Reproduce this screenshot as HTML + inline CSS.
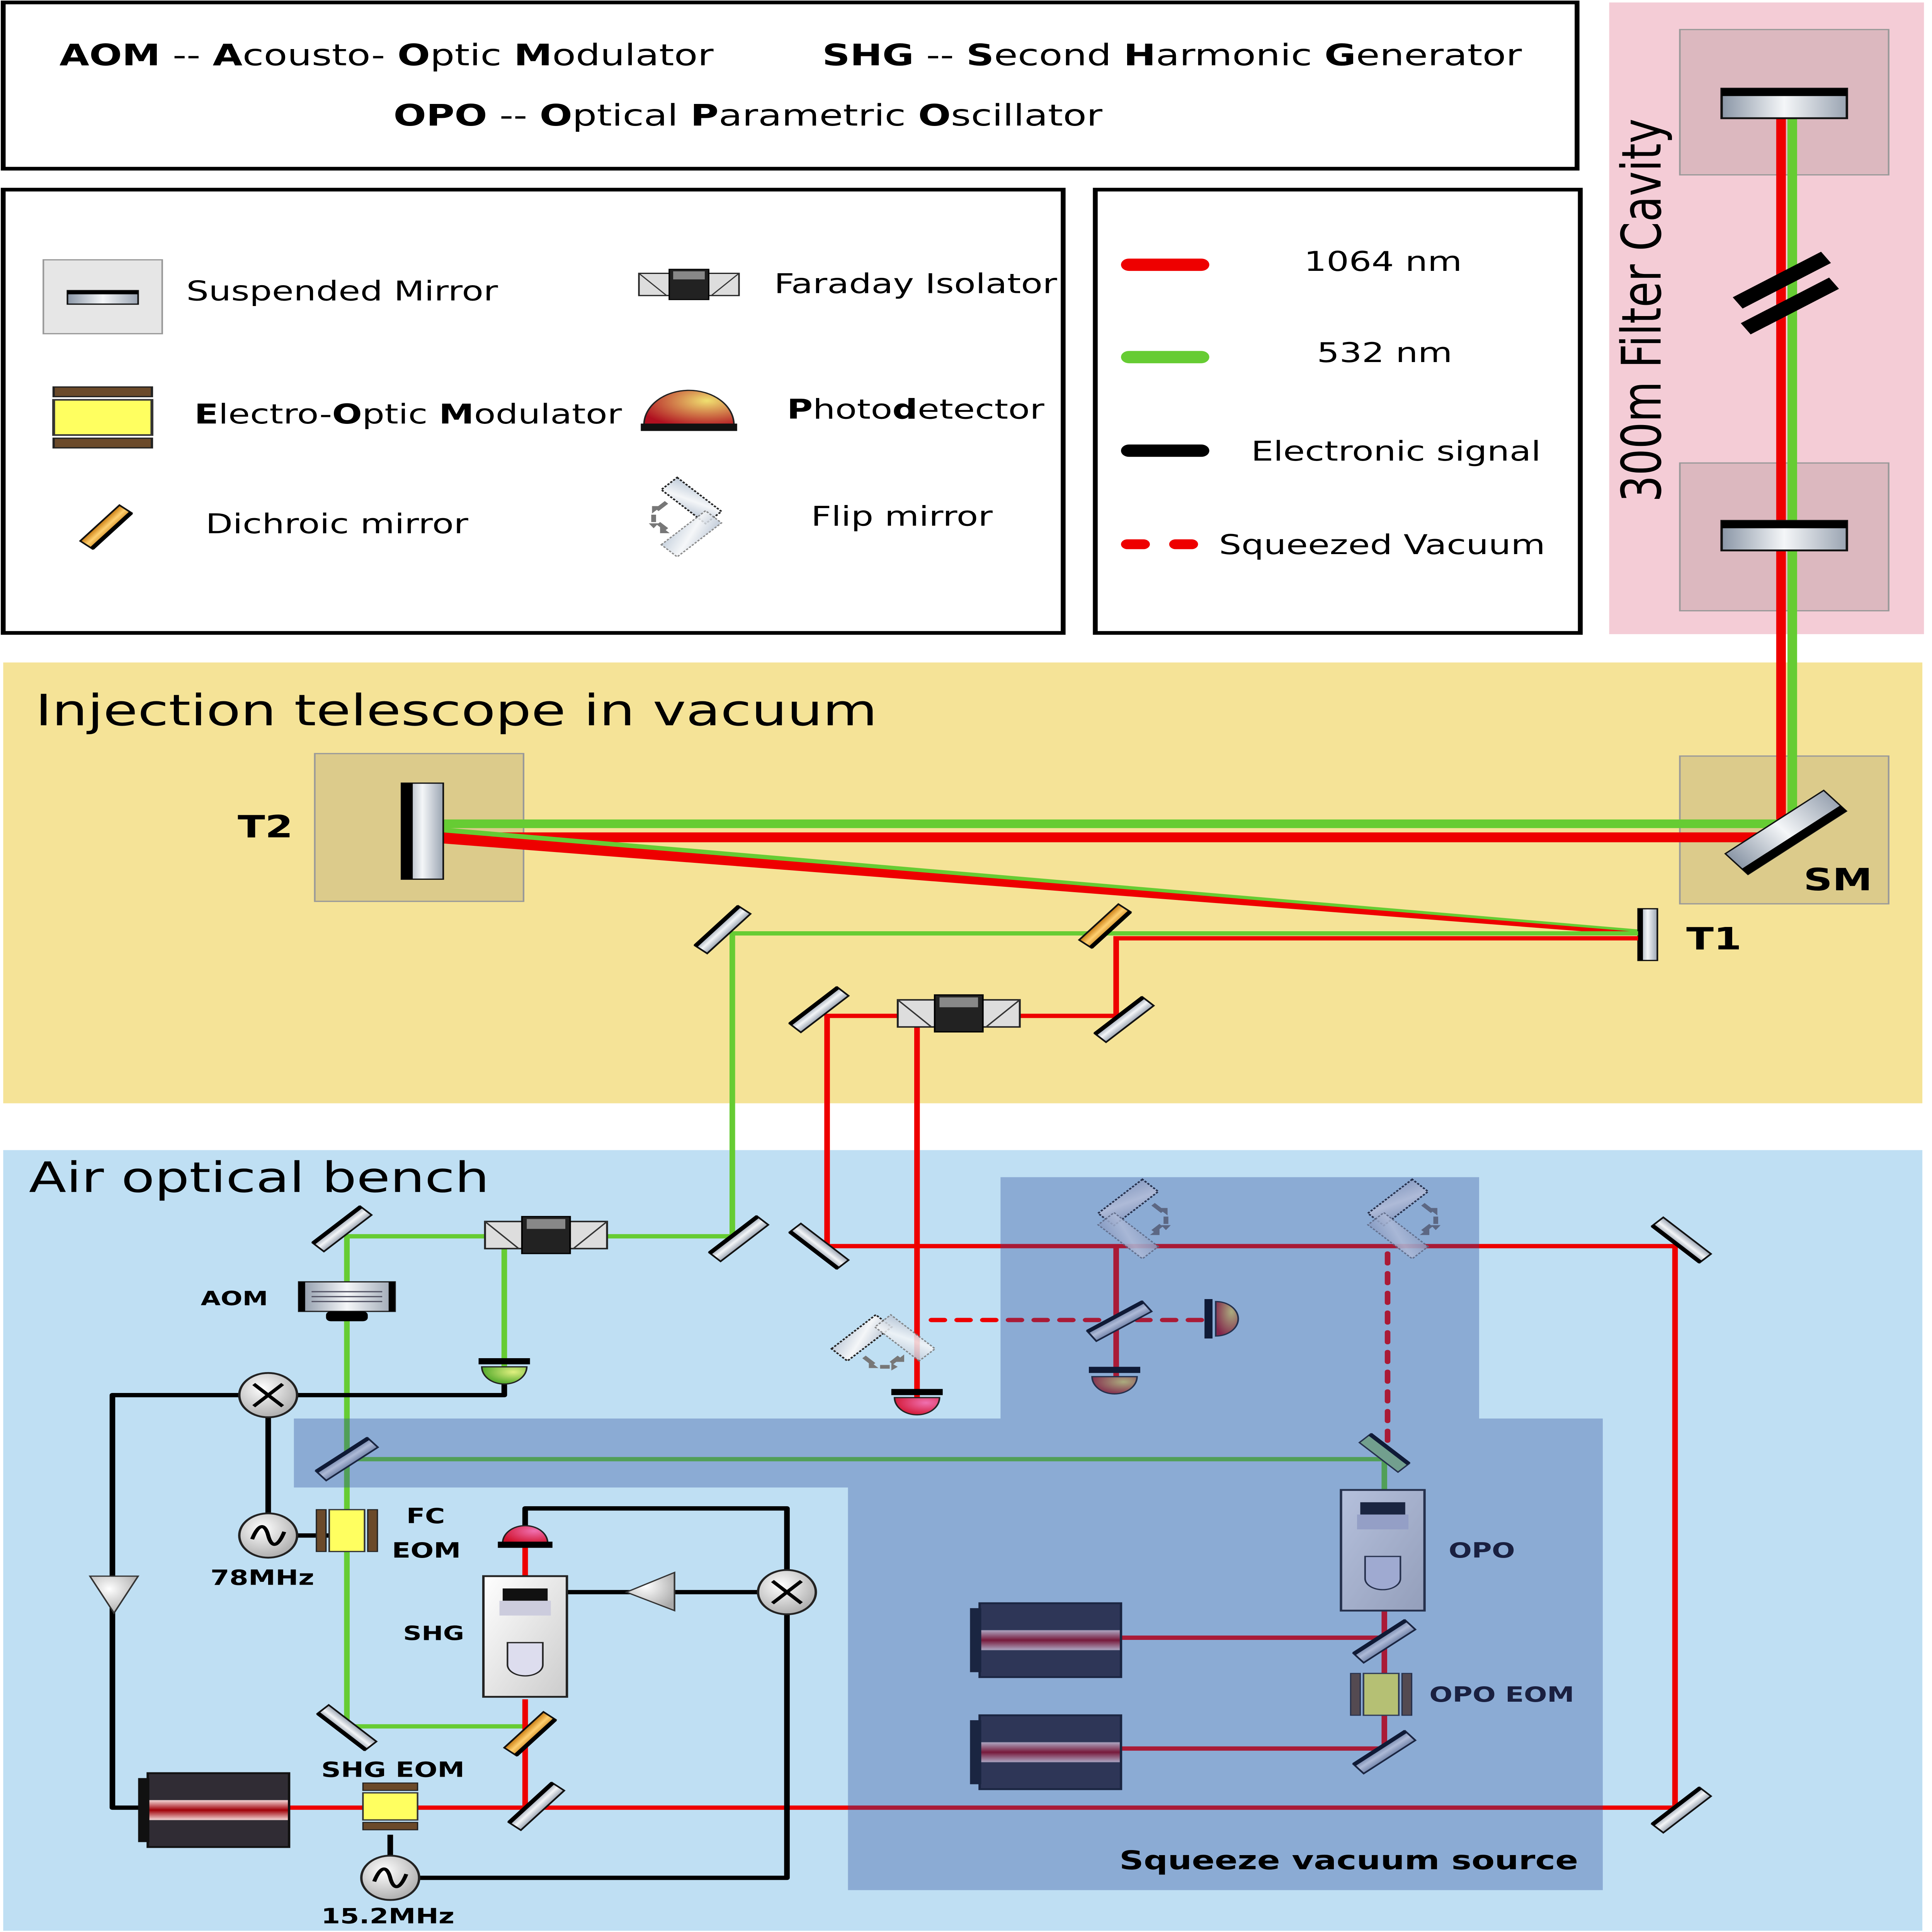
<!DOCTYPE html>
<html><head><meta charset="utf-8"><style>html,body{margin:0;padding:0;background:#fff;width:100%;height:100%;overflow:hidden}svg{display:block;position:fixed;left:0;top:0;width:100vw;height:100vh}text{font-family:"DejaVu Sans","Liberation Sans",sans-serif}</style></head><body>
<svg xmlns="http://www.w3.org/2000/svg" viewBox="0 0 1203 1569" preserveAspectRatio="none">
<defs>
<linearGradient id="mg" x1="0" y1="0" x2="1" y2="0"><stop offset="0" stop-color="#8a96a6"/><stop offset="0.5" stop-color="#f4f6f8"/><stop offset="1" stop-color="#9aa4b2"/></linearGradient>
<linearGradient id="fg" x1="0" y1="0" x2="1" y2="1"><stop offset="0" stop-color="#c0ccda"/><stop offset="0.5" stop-color="#f4f6f8"/><stop offset="1" stop-color="#b8c4d4"/></linearGradient>
<linearGradient id="og" x1="0" y1="0" x2="1" y2="0"><stop offset="0" stop-color="#c87a10"/><stop offset="0.5" stop-color="#ffd070"/><stop offset="1" stop-color="#d08a20"/></linearGradient>
<linearGradient id="lg" x1="0" y1="0" x2="0" y2="1"><stop offset="0" stop-color="#302c34"/><stop offset="0.36" stop-color="#302c34"/><stop offset="0.37" stop-color="#f0d0d0"/><stop offset="0.5" stop-color="#a00008"/><stop offset="0.63" stop-color="#f0d0d0"/><stop offset="0.64" stop-color="#302c34"/><stop offset="1" stop-color="#302c34"/></linearGradient>
<radialGradient id="cg" cx="0.4" cy="0.35" r="0.7"><stop offset="0" stop-color="#fff"/><stop offset="1" stop-color="#aaa"/></radialGradient>
<radialGradient id="pr" cx="0.7" cy="0.3" r="0.8"><stop offset="0" stop-color="#f070b0"/><stop offset="1" stop-color="#d0102a"/></radialGradient>
<radialGradient id="pg" cx="0.7" cy="0.3" r="0.8"><stop offset="0" stop-color="#e0f080"/><stop offset="1" stop-color="#40a020"/></radialGradient>
<radialGradient id="py" cx="0.7" cy="0.3" r="0.8"><stop offset="0" stop-color="#f0e070"/><stop offset="1" stop-color="#b01020"/></radialGradient>
<linearGradient id="sg" x1="0" y1="0" x2="1" y2="1"><stop offset="0" stop-color="#fff"/><stop offset="1" stop-color="#ccc"/></linearGradient>
<g id="mir"><rect x="-5" y="-21" width="10" height="42" fill="url(#mg)" stroke="#111" stroke-width="1.2"/><rect x="-6" y="-21" width="3" height="42" fill="#000"/></g>
<g id="dich"><rect x="-5" y="-19" width="10" height="38" fill="url(#og)" stroke="#111" stroke-width="1.2"/><rect x="3" y="-19" width="3" height="38" fill="#000"/></g>
<g id="fi"><rect x="-38" y="-11" width="76" height="22" fill="#ddd" stroke="#222" stroke-width="1.2"/><rect x="-15" y="-15" width="30" height="30" fill="#222" stroke="#000"/><rect x="-12" y="-13" width="24" height="8" fill="#888"/><line x1="-38" y1="-11" x2="-17" y2="11" stroke="#333"/><line x1="38" y1="-11" x2="17" y2="11" stroke="#333"/></g>
<g id="mix"><circle r="18" fill="url(#cg)" stroke="#222" stroke-width="1.5"/><path d="M-9,-9L9,9M9,-9L-9,9" stroke="#000" stroke-width="2.5"/></g>
<g id="osc"><circle r="18" fill="url(#cg)" stroke="#222" stroke-width="1.5"/><path d="M-10,3 C-6,-10 -2,-10 0,0 C2,10 6,10 10,-3" fill="none" stroke="#000" stroke-width="2.5"/></g>
<g id="eom"><rect x="-17" y="-19" width="34" height="6" fill="#6b4a2a" stroke="#222" stroke-width=".8"/><rect x="-17" y="13" width="34" height="6" fill="#6b4a2a" stroke="#222" stroke-width=".8"/><rect x="-17" y="-11" width="34" height="22" fill="#ffff60" stroke="#333" stroke-width="1"/></g>
<g id="las"><rect x="0" y="0" width="88" height="60" fill="url(#lg)" stroke="#111" stroke-width="1.5"/><rect x="-6" y="4" width="7" height="52" fill="#111"/></g>
<g id="box"><rect x="0" y="0" width="52" height="98" fill="url(#sg)" stroke="#222" stroke-width="1.5"/><rect x="12" y="10" width="28" height="10" fill="#111"/><rect x="10" y="20" width="32" height="12" fill="#ccd"/><path d="M15,54H37V72A11,9 0 0 1 15,72Z" fill="#dde" stroke="#222"/></g>
<g id="flip">
<g transform="translate(-0.5,-13.5) rotate(45)"><rect x="-19.5" y="-7" width="39" height="14" fill="url(#fg)" stroke="#222" stroke-width="1.2" stroke-dasharray="1.5,1"/></g>
<g transform="translate(-0.5,13.5) rotate(-45)"><rect x="-19.5" y="-7" width="39" height="14" fill="url(#fg)" stroke="#777" stroke-width="1" stroke-dasharray="1.5,1" opacity=".85"/></g>
<path d="M-16,-12 l-6,6 M-24,-2 v6 M-16,10 l-5,-5" stroke="#777" stroke-width="3"/>
<path d="M-19,-9 l-6,0 l0,6z M-27,5 l6,0 l-3,4z M-14,13 l-6,0 l0,-6z" fill="#777"/>
</g>
</defs>
<rect width="1203" height="1569" fill="#fff"/>
<rect x="2" y="2" width="980" height="135" fill="#fff" stroke="#000" stroke-width="3"/>
<text x="37" y="53" font-size="24"><tspan font-weight="bold">AOM</tspan> -- <tspan font-weight="bold">A</tspan>cousto- <tspan font-weight="bold">O</tspan>ptic <tspan font-weight="bold">M</tspan>odulator</text>
<text x="512" y="53" font-size="24"><tspan font-weight="bold">SHG</tspan> -- <tspan font-weight="bold">S</tspan>econd <tspan font-weight="bold">H</tspan>armonic <tspan font-weight="bold">G</tspan>enerator</text>
<text x="245" y="102" font-size="24"><tspan font-weight="bold">OPO</tspan> -- <tspan font-weight="bold">O</tspan>ptical <tspan font-weight="bold">P</tspan>arametric <tspan font-weight="bold">O</tspan>scillator</text>
<rect x="2" y="154" width="660" height="360" fill="#fff" stroke="#000" stroke-width="3"/>
<rect x="27" y="211" width="74" height="60" fill="#e6e6e6" stroke="#999"/>
<rect x="42" y="236" width="44" height="11" fill="url(#mg)" stroke="#111"/><rect x="42" y="236" width="44" height="3" fill="#000"/>
<text x="116" y="244" font-size="22">Suspended Mirror</text>
<use href="#fi" transform="translate(429,231) scale(0.82)"/>
<text x="482" y="238" font-size="22">Faraday Isolator</text>
<g transform="translate(64,339) scale(1.8,1.3)"><use href="#eom"/></g>
<text x="121" y="344" font-size="22"><tspan font-weight="bold">E</tspan>lectro-<tspan font-weight="bold">O</tspan>ptic <tspan font-weight="bold">M</tspan>odulator</text>
<path d="M401,345 A28,28 0 0 1 457,345Z" fill="url(#py)" stroke="#222"/><rect x="399" y="344" width="60" height="6" fill="#111"/>
<text x="490" y="340" font-size="22"><tspan font-weight="bold">P</tspan>hoto<tspan font-weight="bold">d</tspan>etector</text>
<use href="#dich" transform="translate(66,428) rotate(40)"/>
<text x="128" y="433" font-size="22">Dichroic mirror</text>
<use href="#flip" transform="translate(431,420)"/>
<text x="505" y="427" font-size="22">Flip mirror</text>
<rect x="682" y="154" width="302" height="360" fill="#fff" stroke="#000" stroke-width="3"/>
<line x1="703" y1="215" x2="748" y2="215" stroke="#e00" stroke-width="10" stroke-linecap="round"/>
<text x="812" y="220" font-size="22">1064 nm</text>
<line x1="703" y1="290" x2="748" y2="290" stroke="#6c3" stroke-width="10" stroke-linecap="round"/>
<text x="820" y="294" font-size="22">532 nm</text>
<line x1="703" y1="366" x2="748" y2="366" stroke="#000" stroke-width="10" stroke-linecap="round"/>
<text x="779" y="374" font-size="22">Electronic signal</text>
<path d="M702,442H712M732,442H742" stroke="#e00" stroke-width="8" stroke-linecap="round"/>
<text x="759" y="450" font-size="22">Squeezed Vacuum</text>
<rect x="1002" y="2" width="196" height="513" fill="#f4ccd6"/>
<rect x="1046" y="24" width="130" height="118" fill="#dcb8bf" stroke="#999"/>
<rect x="1046" y="376" width="130" height="120" fill="#dcb8bf" stroke="#999"/>
<text transform="translate(1034,252) rotate(-90)" font-size="34" text-anchor="middle">300m Filter Cavity</text>
<rect x="2" y="538" width="1195" height="358" fill="#f5e397"/>
<text x="22" y="589" font-size="35">Injection telescope in vacuum</text>
<rect x="196" y="612" width="130" height="120" fill="#dccb8b" stroke="#999"/>
<rect x="1046" y="614" width="130" height="120" fill="#dccb8b" stroke="#999"/>
<rect x="2" y="934" width="1195" height="634" fill="#bfdff3"/>
<text x="18" y="968" font-size="34">Air optical bench</text>
<line x1="1116" y1="84" x2="1116" y2="668" stroke="#6c3" stroke-width="6"/>
<line x1="1109" y1="84" x2="1109" y2="676" stroke="#e00" stroke-width="6"/>
<line x1="1082" y1="246" x2="1137" y2="209" stroke="#000" stroke-width="11"/>
<line x1="1087" y1="267" x2="1142" y2="230" stroke="#000" stroke-width="11"/>
<rect x="1072" y="72" width="78" height="24" fill="url(#mg)" stroke="#111" stroke-width="1.5"/><rect x="1072" y="72" width="78" height="6" fill="#000"/>
<rect x="1072" y="423" width="78" height="24" fill="url(#mg)" stroke="#111" stroke-width="1.5"/><rect x="1072" y="423" width="78" height="6" fill="#000"/>
<line x1="276" y1="669" x2="1110" y2="669" stroke="#6c3" stroke-width="7"/>
<line x1="276" y1="680" x2="1110" y2="680" stroke="#e00" stroke-width="8"/>
<polygon points="276,675 1022,756 1022,760 276,685" fill="#e00"/>
<polygon points="276,672 1022,755 1022,757 276,676" fill="#6c3"/>
<rect x="250" y="636" width="26" height="78" fill="url(#mg)" stroke="#111"/><rect x="250" y="636" width="7" height="78" fill="#000"/>
<g transform="translate(1112,676) rotate(-40)"><rect x="-40" y="-11" width="80" height="22" fill="url(#mg)" stroke="#111"/><rect x="-40" y="5" width="80" height="6" fill="#000"/></g>
<rect x="1020" y="738" width="12" height="42" fill="url(#mg)" stroke="#111"/><rect x="1020" y="738" width="3" height="42" fill="#000"/>
<text x="148" y="680" font-size="25" font-weight="bold">T2</text>
<text x="1123" y="723" font-size="25" font-weight="bold">SM</text>
<text x="1050" y="771" font-size="25" font-weight="bold">T1</text>
<g fill="none" stroke="#6c3" stroke-width="3.5">
<path d="M1020,758H456V1004H216V1402H327V1380"/>
<path d="M314,1004V1110"/>
<path d="M216,1185H862V1212"/>
</g>
<g fill="none" stroke="#e00" stroke-width="3.5">
<path d="M1020,762H695V825H515V1012H1043V1468H180"/>
<path d="M571,825V1135"/>
<path d="M695,1012V1118"/>
<path d="M862,1308V1420H697"/>
<path d="M697,1330H862"/>
<path d="M327,1468V1380"/>
<path d="M327,1256V1280"/>
</g>
<g fill="none" stroke="#e00" stroke-width="3.5" stroke-dasharray="8,8" stroke-linecap="round">
<path d="M580,1072H752"/><path d="M864,1018V1180"/>
</g>
<g fill="none" stroke="#000" stroke-width="3.5" stroke-linejoin="round">
<path d="M314,1118V1133H70V1468H92"/>
<path d="M167,1133V1247H216"/>
<path d="M327,1240V1225H490V1525H243V1490"/>
<path d="M490,1293H340"/>
</g>
<use href="#mir" transform="translate(450,755) rotate(40)"/>
<use href="#dich" transform="translate(688,752) rotate(40)"/>
<use href="#mir" transform="translate(510,820) rotate(45)"/>
<use href="#mir" transform="translate(700,828) rotate(45)"/>
<use href="#fi" transform="translate(597,823)"/>
<use href="#mir" transform="translate(213,998) rotate(45)"/>
<use href="#fi" transform="translate(340,1003)"/>
<use href="#mir" transform="translate(460,1006) rotate(45)"/>
<use href="#mir" transform="translate(510,1012) rotate(-45)"/>
<use href="#mir" transform="translate(1047,1007) rotate(-45)"/>
<use href="#mir" transform="translate(1047,1470) rotate(45)"/>
<g transform="translate(216,1053)"><rect x="-30" y="-12" width="60" height="24" fill="url(#mg)" stroke="#222"/><rect x="-30" y="-12" width="4" height="24" fill="#000"/><rect x="26" y="-12" width="4" height="24" fill="#000"/><path d="M-22,-4H22M-22,0H22M-22,4H22" stroke="#556" /><rect x="-13" y="12" width="26" height="8" rx="3" fill="#000"/></g>
<text x="125" y="1060" font-size="16" font-weight="bold">AOM</text>
<path d="M300,1110 A14,14 0 0 0 328,1110Z" fill="url(#pg)" stroke="#222"/><rect x="298" y="1103" width="32" height="5" fill="#000"/>
<use href="#mix" transform="translate(167,1133)"/>
<polygon points="56,1280 86,1280 71,1310" fill="url(#cg)" stroke="#333"/>
<use href="#mir" transform="translate(216,1185) rotate(50)"/>
<use href="#osc" transform="translate(167,1247)"/>
<use href="#eom" transform="translate(216,1243) rotate(90)"/>
<text x="253" y="1237" font-size="17" font-weight="bold">FC</text>
<text x="244" y="1265" font-size="17" font-weight="bold">EOM</text>
<text x="131" y="1287" font-size="17" font-weight="bold">78MHz</text>
<path d="M313,1253 A14,14 0 0 1 341,1253Z" fill="url(#pr)" stroke="#222"/><rect x="310" y="1252" width="34" height="5" fill="#000"/>
<use href="#box" transform="translate(301,1280)"/>
<text x="251" y="1332" font-size="16" font-weight="bold">SHG</text>
<polygon points="420,1277 420,1308 390,1293" fill="url(#cg)" stroke="#333"/>
<use href="#mix" transform="translate(490,1293)"/>
<use href="#mir" transform="translate(216,1403) rotate(-45)"/>
<use href="#dich" transform="translate(330,1408) rotate(40)"/>
<use href="#las" transform="translate(92,1440)"/>
<use href="#eom" transform="translate(243,1467)"/>
<text x="200" y="1443" font-size="17" font-weight="bold">SHG EOM</text>
<use href="#mir" transform="translate(334,1467) rotate(40)"/>
<use href="#osc" transform="translate(243,1525)"/>
<text x="200" y="1562" font-size="17" font-weight="bold">15.2MHz</text>
<use href="#flip" transform="translate(550,1086) rotate(-90)"/>
<path d="M557,1135 A14,14 0 0 0 585,1135Z" fill="url(#pr)" stroke="#222"/><rect x="555" y="1128" width="32" height="5" fill="#000"/>
<use href="#flip" transform="translate(702,990) scale(-1,1)"/>
<use href="#flip" transform="translate(870,990) scale(-1,1)"/>
<use href="#mir" transform="translate(697,1073) rotate(55)"/>
<path d="M680,1118 A14,14 0 0 0 708,1118Z" fill="url(#py)" stroke="#222"/><rect x="678" y="1110" width="32" height="5" fill="#000"/>
<path d="M757,1057 A14,14 0 0 1 757,1085Z" fill="url(#py)" stroke="#222"/><rect x="750" y="1055" width="5" height="32" fill="#000"/>
<g transform="translate(862,1180) rotate(-45)"><rect x="-5" y="-17" width="10" height="34" fill="#9c8" stroke="#222"/><rect x="3" y="-17" width="3" height="34" fill="#000"/></g>
<use href="#box" transform="translate(835,1210)"/>
<use href="#mir" transform="translate(862,1333) rotate(50)"/>
<use href="#eom" transform="translate(860,1376) rotate(90)"/>
<use href="#mir" transform="translate(862,1423) rotate(50)"/>
<use href="#las" transform="translate(610,1302)"/>
<use href="#las" transform="translate(610,1393)"/>
<path d="M623,956H921V1152H998V1535H528V1208H183V1152H623Z" fill="#2a4a9a" opacity="0.35"/>
<text x="902" y="1265" font-size="17" font-weight="bold" fill="#1a2040">OPO</text>
<text x="890" y="1382" font-size="17" font-weight="bold" fill="#1a2040">OPO EOM</text>
<text x="697" y="1518" font-size="21" font-weight="bold" fill="#000">Squeeze vacuum source</text>
</svg>
</body></html>
